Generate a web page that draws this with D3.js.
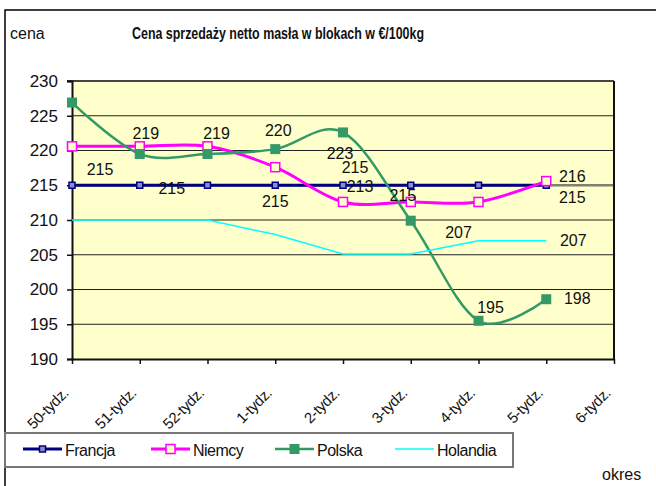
<!DOCTYPE html>
<html>
<head>
<meta charset="utf-8">
<script src="https://cdn.jsdelivr.net/npm/d3@7"></script>
<style>
  body { margin: 0; background: #fff; }
  svg { display: block; font-family: "Liberation Sans", Arial, sans-serif; }
</style>
</head>
<body>
<div id="chart"></div>
<script>
const categories = ["50-tydz.", "51-tydz.", "52-tydz.", "1-tydz.", "2-tydz.", "3-tydz.", "4-tydz.", "5-tydz.", "6-tydz."];
const francja = [215, 215, 215, 215, 215, 215, 215, 215];
const niemcy = [220.6, 220.6, 220.6, 217.6, 212.6, 212.6, 212.6, 215.6];
const polska = [226.9, 219.5, 219.5, 220.2, 222.6, 209.9, 195.5, 198.6];
const holandia = [210, 210, 210, 207.9, 205.1, 205.1, 207, 207];
const yTicks = [190, 195, 200, 205, 210, 215, 220, 225, 230];
const seriesNames = ["Francja", "Niemcy", "Polska", "Holandia"];

// data labels as they appear: series index, category index, text
const labels = [
  [0, 0, "215"], [1, 1, "219"], [0, 1, "215"], [1, 2, "219"],
  [2, 3, "220"], [0, 3, "215"], [2, 4, "223"], [0, 4, "215"],
  [1, 4, "213"], [0, 5, "215"], [3, 6, "207"], [2, 6, "195"],
  [1, 7, "216"], [0, 7, "215"], [3, 7, "207"], [2, 7, "198"]
];
// label offsets from their point (dx, dy)
const labelOffsets = [
  [28, -10], [6, -7], [32, 9], [9, -7],
  [3, -13], [0, 22], [-3, 27], [12, -12],
  [17, -10], [-8, 16], [-20, -3], [12, -8],
  [26, 1], [26, 18], [27, 5], [31, 5]
];

const w = 656, h = 486;
const padL = 72, padR = 614, padT = 81, padB = 359;

const svg = d3.select("#chart").append("svg")
  .attr("width", w).attr("height", h);

// outer chart frame
svg.append("rect")
  .attr("x", 5).attr("y", 10).attr("width", 700).attr("height", 600)
  .attr("fill", "#fff").attr("stroke", "#000").attr("stroke-width", 1.5);

const x = d3.scalePoint().domain(categories).range([padL, padR]);
const y = d3.scaleLinear().domain([190, 230]).range([padB, padT]);

// plot area
svg.append("rect")
  .attr("x", padL).attr("y", padT)
  .attr("width", padR - padL).attr("height", padB - padT)
  .attr("fill", "#FFFFCC");

// gridlines
svg.append("g").selectAll("line")
  .data(yTicks.slice(1, -1))
  .enter().append("line")
  .attr("x1", padL).attr("x2", padR)
  .attr("y1", d => y(d)).attr("y2", d => y(d))
  .attr("stroke", d => d === 215 ? "#808070" : "#222")
  .attr("stroke-width", d => d === 215 ? 2.5 : 1);

// top and right border
svg.append("line").attr("x1", padL - 5).attr("x2", padR)
  .attr("y1", padT).attr("y2", padT).attr("stroke", "#444").attr("stroke-width", 2);
svg.append("line").attr("x1", padR).attr("x2", padR)
  .attr("y1", padT).attr("y2", padB).attr("stroke", "#111").attr("stroke-width", 2);

// axes
const yAxis = d3.axisLeft(y).tickValues(yTicks).tickSize(5).tickPadding(9);
const gy = svg.append("g").attr("transform", `translate(${padL},0)`).call(yAxis);
gy.select(".domain").attr("stroke", "#111").attr("stroke-width", 2);
gy.selectAll(".tick line").attr("stroke", "#111").attr("stroke-width", 1.5);
gy.selectAll("text").attr("font-size", 17).attr("fill", "#111")
  .attr("font-family", "'Liberation Sans', Arial, sans-serif");

const xAxis = d3.axisBottom(x).tickSize(5).tickSizeOuter(0);
const gx = svg.append("g").attr("transform", `translate(0,${padB})`).call(xAxis);
gx.select(".domain").attr("stroke", "#111").attr("stroke-width", 2);
gx.selectAll(".tick line").attr("stroke", "#111").attr("stroke-width", 1.5);
gx.selectAll("text")
  .attr("font-size", 15).attr("fill", "#111")
  .attr("font-family", "'Liberation Sans', Arial, sans-serif")
  .attr("text-anchor", "end")
  .attr("letter-spacing", -0.3)
  .attr("y", 0).attr("dy", 0)
  .attr("transform", "translate(-3,35) rotate(-45)");

// series
const series = [
  { values: francja, color: "#000080", width: 3, curve: d3.curveLinear, marker: "small" },
  { values: niemcy, color: "#FF00FF", width: 3, curve: d3.curveCardinal.tension(0), marker: "hollow" },
  { values: polska, color: "#339966", width: 2.5, curve: d3.curveCardinal.tension(0), marker: "filled" },
  { values: holandia, color: "#00FFFF", width: 1.5, curve: d3.curveLinear, marker: "none" }
];

series.forEach(s => {
  const line = d3.line()
    .x((d, i) => x(categories[i]))
    .y(d => y(d))
    .curve(s.curve);
  svg.append("path")
    .datum(s.values)
    .attr("d", line)
    .attr("fill", "none")
    .attr("stroke", s.color)
    .attr("stroke-width", s.width);
});

function drawMarker(g, type, color, cx, cy) {
  if (type === "small") {
    g.append("rect").attr("x", cx - 3).attr("y", cy - 3).attr("width", 6).attr("height", 6)
      .attr("fill", "#8c8cc8").attr("stroke", color).attr("stroke-width", 1.5);
  } else if (type === "hollow") {
    g.append("rect").attr("x", cx - 4.5).attr("y", cy - 4.5).attr("width", 9).attr("height", 9)
      .attr("fill", "#FFFFCC").attr("stroke", color).attr("stroke-width", 1.5);
  } else if (type === "filled") {
    g.append("rect").attr("x", cx - 5).attr("y", cy - 5).attr("width", 10).attr("height", 10)
      .attr("fill", color);
  }
}

const markers = svg.append("g");
series.forEach(s => {
  s.values.forEach((v, i) => drawMarker(markers, s.marker, s.color, x(categories[i]), y(v)));
});

// data labels
svg.append("g").selectAll("text")
  .data(labels)
  .enter().append("text")
  .attr("x", (d, i) => x(categories[d[1]]) + labelOffsets[i][0])
  .attr("y", (d, i) => y(series[d[0]].values[d[1]]) + labelOffsets[i][1])
  .attr("text-anchor", "middle")
  .attr("font-size", 16)
  .attr("fill", "#111")
  .text(d => d[2]);

// titles
svg.append("text").attr("x", 10).attr("y", 39)
  .attr("font-size", 16).attr("fill", "#111").text("cena");
svg.append("text").attr("x", 132).attr("y", 39)
  .attr("font-size", 16).attr("font-weight", "bold").attr("fill", "#111")
  .attr("textLength", 292).attr("lengthAdjust", "spacingAndGlyphs")
  .text("Cena sprzedaży netto masła w blokach w €/100kg");
svg.append("text").attr("x", 602).attr("y", 480)
  .attr("font-size", 16).attr("fill", "#111").text("okres");

// legend
const legend = svg.append("g");
legend.append("rect")
  .attr("x", 5).attr("y", 433).attr("width", 508).attr("height", 34)
  .attr("fill", "#fff").attr("stroke", "#777").attr("stroke-width", 2);
const legendX = [23, 151, 275, 395];
series.forEach((s, i) => {
  const lx = legendX[i], ly = 449;
  legend.append("line")
    .attr("x1", lx).attr("x2", lx + 39).attr("y1", ly).attr("y2", ly)
    .attr("stroke", s.color).attr("stroke-width", s.width);
  drawMarker(legend, s.marker, s.color, lx + 19.5, ly);
  legend.append("text")
    .attr("x", lx + 42).attr("y", 456)
    .attr("font-size", 16).attr("fill", "#111")
    .attr("letter-spacing", -0.5)
    .text(seriesNames[i]);
});
</script>
</body>
</html>
